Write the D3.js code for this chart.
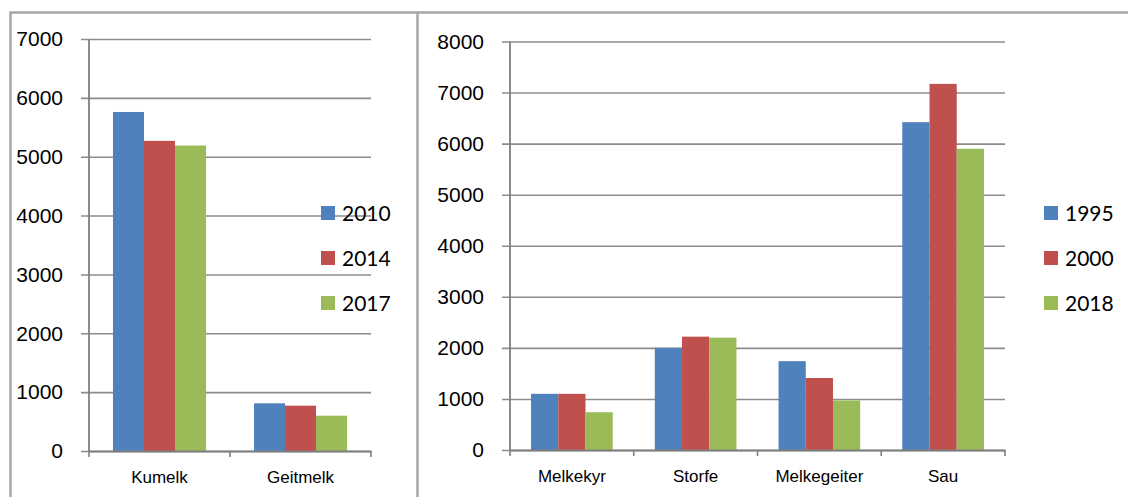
<!DOCTYPE html>
<html>
<head>
<meta charset="utf-8">
<script src="https://cdn.jsdelivr.net/npm/d3@7"></script>
<style>
  body { margin: 0; background: #fff; }
  svg { display: block; font-family: Lato, "Liberation Sans", sans-serif; }
</style>
</head>
<body>
<div id="chart"></div>
<script>
// left panel data
var leftCategories = ["Kumelk", "Geitmelk"];
var leftYears = ["2010", "2014", "2017"];
var left2010 = [5760, 810];
var left2014 = [5270, 770];
var left2017 = [5190, 600];
var leftTicks = [0, 1000, 2000, 3000, 4000, 5000, 6000, 7000];

// right panel data
var rightCategories = ["Melkekyr", "Storfe", "Melkegeiter", "Sau"];
var rightYears = ["1995", "2000", "2018"];
var right1995 = [1100, 2000, 1740, 6420];
var right2000 = [1100, 2220, 1410, 7170];
var right2018 = [740, 2200, 970, 5900];
var rightTicks = [0, 1000, 2000, 3000, 4000, 5000, 6000, 7000, 8000];

var colors = ["#4f81bd", "#c0504d", "#9bbb59"];
var gridColor = "#8c8c8c";

var svg = d3.select("#chart")
    .append("svg")
    .attr("width", 1128)
    .attr("height", 497);

// panel frames
svg.append("path")
    .attr("d", "M10.5,497 L10.5,12.5 L1128,12.5 M417.5,12.5 L417.5,497")
    .attr("fill", "none")
    .attr("stroke", "#a6a6a6")
    .attr("stroke-width", 2.5);

function drawPanel(opt) {
  var series = opt.years.map(function(y, i) {
    return {name: y, values: opt.values[i]};
  });

  var x0 = d3.scaleBand()
      .domain(opt.categories)
      .range([opt.left, opt.right]);

  var bw = x0.bandwidth();
  var x1 = d3.scaleBand()
      .domain(opt.years)
      .range([bw * 0.17, bw * 0.83]);

  var y = d3.scaleLinear()
      .domain([0, d3.max(opt.ticks)])
      .range([opt.bottom, opt.top]);

  var g = svg.append("g");

  // gridlines + tick labels
  var yAxis = g.append("g")
      .attr("transform", "translate(" + opt.left + ",0)")
      .call(d3.axisLeft(y)
        .tickValues(opt.ticks)
        .tickFormat(d3.format("d"))
        .tickSize(-(opt.right - opt.left))
        .tickSizeOuter(0)
        .tickPadding(26));
  yAxis.select(".domain").remove();
  yAxis.selectAll(".tick line")
      .attr("x1", -8)
      .attr("stroke", gridColor)
      .attr("stroke-width", 1.6);
  yAxis.selectAll(".tick text")
      .attr("fill", "#000")
      .style("font-size", "21px");

  // bars
  var groups = g.selectAll(".grp")
      .data(opt.categories)
      .enter().append("g")
      .attr("transform", function(d) { return "translate(" + x0(d) + ",0)"; });

  groups.selectAll("rect")
      .data(function(d, ci) {
        return series.map(function(s, si) {
          return {name: s.name, value: s.values[ci], idx: si};
        });
      })
      .enter().append("rect")
      .attr("x", function(d) { return x1(d.name); })
      .attr("width", x1.bandwidth())
      .attr("y", function(d) { return y(d.value); })
      .attr("height", function(d) { return y(0) - y(d.value); })
      .attr("fill", function(d) { return colors[d.idx]; });

  // y axis line
  g.append("line")
      .attr("x1", opt.left).attr("x2", opt.left)
      .attr("y1", y(d3.max(opt.ticks))).attr("y2", y(0))
      .attr("stroke", "#7f7f7f")
      .attr("stroke-width", 1.8);

  // x axis
  var xAxis = g.append("g")
      .attr("transform", "translate(0," + y(0) + ")")
      .call(d3.axisBottom(x0).tickSize(0).tickPadding(20));
  xAxis.select(".domain")
      .attr("stroke", "#7f7f7f")
      .attr("stroke-width", 1.8);
  xAxis.selectAll(".tick text")
      .attr("fill", "#000")
      .style("font-size", "17px");

  var bounds = opt.categories.map(function(c) { return x0(c); }).concat([opt.right]);
  xAxis.selectAll(".bound")
      .data(bounds)
      .enter().append("line")
      .attr("x1", function(d) { return d; })
      .attr("x2", function(d) { return d; })
      .attr("y1", 0).attr("y2", 6)
      .attr("stroke", "#7f7f7f")
      .attr("stroke-width", 1.6);

  // legend
  var legend = g.selectAll(".key")
      .data(opt.years)
      .enter().append("g")
      .attr("transform", function(d, i) {
        return "translate(" + opt.legendX + "," + (opt.legendY + i * 45) + ")";
      });
  legend.append("rect")
      .attr("x", 0).attr("y", -7)
      .attr("width", 14).attr("height", 14)
      .attr("fill", function(d, i) { return colors[i]; });
  legend.append("text")
      .attr("x", 21)
      .attr("dy", "0.36em")
      .style("font-size", "21px")
      .text(function(d) { return d; });
}

drawPanel({
  categories: leftCategories,
  years: leftYears,
  values: [left2010, left2014, left2017],
  ticks: leftTicks,
  left: 89, right: 371, top: 39, bottom: 451,
  legendX: 321, legendY: 213
});

drawPanel({
  categories: rightCategories,
  years: rightYears,
  values: [right1995, right2000, right2018],
  ticks: rightTicks,
  left: 510, right: 1005, top: 41.5, bottom: 450,
  legendX: 1044, legendY: 213
});
</script>
</body>
</html>
